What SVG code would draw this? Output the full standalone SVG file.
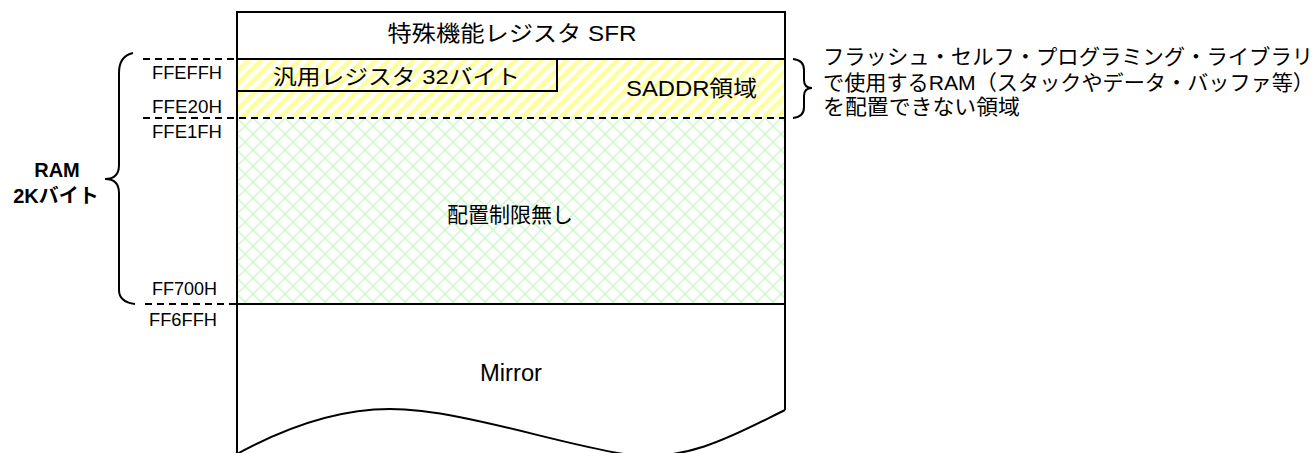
<svg xmlns="http://www.w3.org/2000/svg" width="1316" height="453" viewBox="0 0 1316 453">
<style>
.t{font-family:"Liberation Sans","Noto Sans CJK JP",sans-serif;fill:#000}
.ln{fill:none;stroke:#000;stroke-width:2}
.ds{fill:none;stroke:#000;stroke-width:2;stroke-dasharray:7 5}
</style>
<defs>
<pattern id="yel" width="9" height="9" patternUnits="userSpaceOnUse" patternTransform="rotate(45)">
<rect x="0" y="0" width="4.5" height="9" fill="#ffff99"/>
</pattern>
<pattern id="grn" width="16" height="16" patternUnits="userSpaceOnUse" x="237" y="118">
<path d="M0,0L16,16M16,0L0,16" stroke="#ccf8cc" stroke-width="1.5" fill="none"/>
</pattern>
</defs>
<rect width="1316" height="453" fill="#fff"/>
<g id="sfr">
<rect x="237" y="12" width="548" height="47" fill="#fff"/>
<text class="t" x="512" y="41" font-size="22" text-anchor="middle" textLength="249" lengthAdjust="spacingAndGlyphs">特殊機能レジスタ SFR</text>
</g>
<g id="saddr">
<rect x="237" y="59" width="548" height="59" fill="url(#yel)"/>
<text class="t" x="626" y="96" font-size="22" textLength="131" lengthAdjust="spacingAndGlyphs">SADDR領域</text>
</g>
<g id="gpreg">
<rect x="237" y="59" width="320" height="32" class="ln" stroke-width="1.6"/>
<text class="t" x="273" y="84" font-size="21" textLength="247" lengthAdjust="spacingAndGlyphs">汎用レジスタ 32バイト</text>
</g>
<g id="free">
<rect x="237" y="118" width="548" height="186" fill="url(#grn)"/>
<text class="t" x="510" y="222" font-size="21" text-anchor="middle" textLength="126" lengthAdjust="spacingAndGlyphs">配置制限無し</text>
</g>
<g id="mirror">
<text class="t" x="480" y="381" font-size="23" textLength="62" lengthAdjust="spacingAndGlyphs">Mirror</text>
</g>
<g id="frame">
<path class="ln" d="M237,455V12H785V410"/>
<path class="ln" d="M237,59H785M237,304H785"/>
<path class="ln" d="M237,454C290,425 340,409 390,409C460,409 560,445 630,455C690,462 740,432 785,410"/>
</g>
<g id="connectors">
<path class="ds" d="M143,59H237"/>
<path class="ds" d="M143,118H785"/>
<path class="ds" d="M145,304H237"/>
<path class="ln" d="M133,53Q119,56 119,73V165Q119,179 105,179Q119,179 119,193V290Q119,302 135,304"/>
<path class="ln" d="M793,59Q804,60 804,70V80Q804,88 812,88Q804,88 804,96V107Q804,117 793,118"/>
</g>
<g id="addresses" font-size="18">
<text class="t" x="152" y="79" textLength="70" lengthAdjust="spacingAndGlyphs">FFEFFH</text>
<text class="t" x="152" y="113" textLength="70" lengthAdjust="spacingAndGlyphs">FFE20H</text>
<text class="t" x="152" y="138" textLength="70" lengthAdjust="spacingAndGlyphs">FFE1FH</text>
<text class="t" x="152" y="295" textLength="65" lengthAdjust="spacingAndGlyphs">FF700H</text>
<text class="t" x="149" y="326" textLength="68" lengthAdjust="spacingAndGlyphs">FF6FFH</text>
</g>
<g id="ram-label" font-weight="bold" font-size="20">
<text class="t" x="57" y="177" text-anchor="middle">RAM</text>
<text class="t" x="56" y="203" text-anchor="middle">2Kバイト</text>
</g>
<g id="note" font-size="21">
<text class="t" x="823" y="64" textLength="490" lengthAdjust="spacingAndGlyphs">フラッシュ・セルフ・プログラミング・ライブラリ</text>
<text class="t" x="823" y="90" textLength="491" lengthAdjust="spacingAndGlyphs">で使用するRAM（スタックやデータ・バッファ等）</text>
<text class="t" x="823" y="114" textLength="197" lengthAdjust="spacingAndGlyphs">を配置できない領域</text>
</g>
</svg>
